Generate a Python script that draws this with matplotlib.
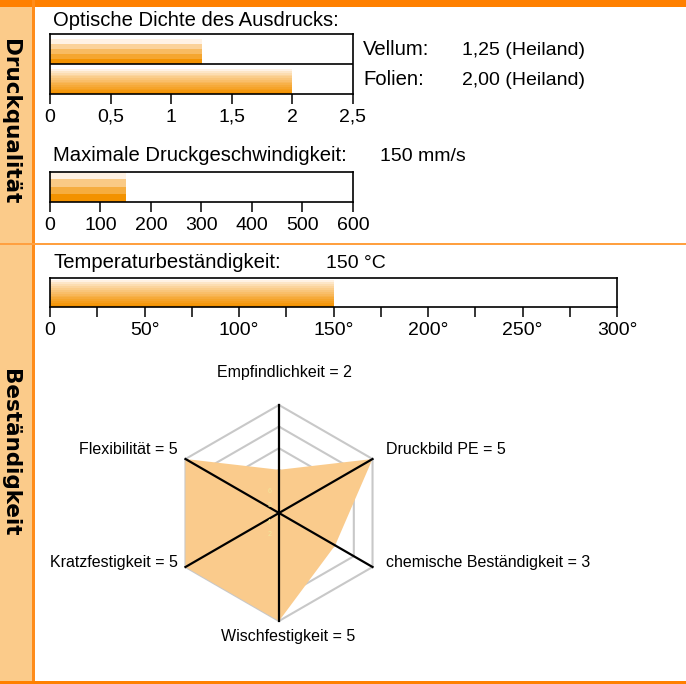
import matplotlib
matplotlib.use("Agg")
import matplotlib.pyplot as plt
from matplotlib.patches import Rectangle, Polygon
import numpy as np

# ---------------- data ----------------
density_labels = ["Vellum:", "Folien:"]
density_values = [1.25, 2.00]
density_texts = ["1,25 (Heiland)", "2,00 (Heiland)"]
density_ticks = [0, 0.5, 1, 1.5, 2, 2.5]
density_ticklabels = ["0", "0,5", "1", "1,5", "2", "2,5"]

speed_value = 150
speed_text = "150 mm/s"
speed_ticks = [0, 100, 200, 300, 400, 500, 600]
speed_ticklabels = ["0", "100", "200", "300", "400", "500", "600"]

temp_value = 150
temp_text = "150 °C"
temp_ticks = [0, 50, 100, 150, 200, 250, 300]
temp_ticklabels = ["0", "50°", "100°", "150°", "200°", "250°", "300°"]
temp_minor = [25, 75, 125, 175, 225, 275]

radar_labels = ["Empfindlichkeit", "Druckbild PE", "chemische Beständigkeit",
                "Wischfestigkeit", "Kratzfestigkeit", "Flexibilität"]
radar_values = [2, 5, 3, 5, 5, 5]
radar_max = 5
radar_rings = [1, 2, 3, 4, 5]

section_titles = ["Druckqualität", "Beständigkeit"]

# ---------------- layout helpers ----------------
W, H = 686, 684
fig = plt.figure(figsize=(W / 100, H / 100), dpi=100)
fig.patch.set_facecolor("white")

FONT = ["Liberation Sans", "DejaVu Sans"]
ORANGE = "#FF8000"
LIGHT = "#FBCB8A"
TFS = 14.6


def rect_px(x0, y0, x1, y1):
    return [x0 / W, 1 - y1 / H, (x1 - x0) / W, (y1 - y0) / H]


def fx(x):
    return x / W


def fy(y):
    return 1 - y / H


def frect(x0, y0, x1, y1, color, z=0):
    fig.add_artist(Rectangle((fx(x0), fy(y1)), (x1 - x0) / W, (y1 - y0) / H,
                             transform=fig.transFigure, facecolor=color,
                             edgecolor="none", zorder=z))


# decoration frame
frect(0, 0, 32, H, LIGHT)
frect(0, 0, W, 7, ORANGE, 2)
frect(32, 0, 35, H, "#FF8C1A", 2)
frect(0, 243, W, 245, "#FFA040", 2)
frect(0, 681, W, H, ORANGE, 2)

fig.text(fx(10), fy(122), section_titles[0], rotation=-90, ha="center", va="center",
         fontsize=15.5, fontweight="bold", family=["DejaVu Sans"], color="black")
fig.text(fx(10), fy(453), section_titles[1], rotation=-90, ha="center", va="center",
         fontsize=15.5, fontweight="bold", family=["DejaVu Sans"], color="black")

C_TOP = np.array([255, 242, 228]) / 255
C_BOT = np.array([243, 146, 0]) / 255


def stripe_color(k, n):
    t = k / (n - 1) if n > 1 else 1.0
    return C_TOP + (C_BOT - C_TOP) * (t ** 0.8)


def style_axis(ax, ticks, labels, xmax):
    ax.set_xlim(0, xmax)
    ax.set_xticks(ticks)
    ax.set_xticklabels(labels, family=FONT, fontsize=14)
    ax.set_yticks([])
    for s in ax.spines.values():
        s.set_color("black")
        s.set_linewidth(1.2)
    ax.tick_params(axis="x", direction="out", length=7, width=1.1, pad=3.5, colors="black")


# ---------- chart 1: density ----------
ax1 = fig.add_axes(rect_px(50, 34, 353, 94))
ax1.set_ylim(2, 0)
for i, v in enumerate(density_values):
    n = 5 if i == 0 else 14
    top = i + 0.18
    hh = (1.0 - 0.18) / n
    for k in range(n):
        ax1.barh(top + (k + 0.5) * hh, v, height=hh * 1.02, color=stripe_color(k, n),
                 edgecolor="none", zorder=1)
ax1.axhline(1, color="black", lw=1.2, zorder=3)
style_axis(ax1, density_ticks, density_ticklabels, 2.5)
fig.text(fx(53), fy(26), "Optische Dichte des Ausdrucks:", family=FONT, fontsize=TFS,
         va="baseline", ha="left")
for i, (lab, txt) in enumerate(zip(density_labels, density_texts)):
    yb = [55, 85][i]
    fig.text(fx(363), fy(yb), lab, family=FONT, fontsize=TFS, va="baseline")
    fig.text(fx(462), fy(yb), txt, family=FONT, fontsize=14, va="baseline")

# ---------- chart 2: speed ----------
ax2 = fig.add_axes(rect_px(50, 172, 353, 202))
ax2.set_ylim(1, 0)
n = 4
for k in range(n):
    hh = 1.0 / n
    ax2.barh((k + 0.5) * hh, speed_value, height=hh * 1.02, color=stripe_color(k, n),
             edgecolor="none", zorder=1)
style_axis(ax2, speed_ticks, speed_ticklabels, 600)
fig.text(fx(53), fy(161), "Maximale Druckgeschwindigkeit:", family=FONT, fontsize=TFS,
         va="baseline")
fig.text(fx(380), fy(161), speed_text, family=FONT, fontsize=14, va="baseline")

# ---------- chart 3: temperature ----------
ax3 = fig.add_axes(rect_px(50, 278, 617, 307))
ax3.set_ylim(1, 0)
n = 14
for k in range(n):
    hh = 0.92 / n
    ax3.barh(0.08 + (k + 0.5) * hh, temp_value, height=hh * 1.02, color=stripe_color(k, n),
             edgecolor="none", zorder=1)
style_axis(ax3, temp_ticks, temp_ticklabels, 300)
ax3.set_xticks(temp_minor, minor=True)
ax3.tick_params(axis="x", which="minor", direction="out", length=7, width=1.1)
fig.text(fx(53), fy(268), "Temperaturbeständigkeit:", family=FONT, fontsize=TFS,
         va="baseline")
fig.text(fx(326), fy(268), temp_text, family=FONT, fontsize=14, va="baseline")

# ---------- radar ----------
R = 108.0
cx, cy = 279, 513
axr = fig.add_axes(rect_px(cx - 1.3 * R, cy - 1.3 * R, cx + 1.3 * R, cy + 1.3 * R))
axr.set_xlim(-1.3 * radar_max, 1.3 * radar_max)
axr.set_ylim(-1.3 * radar_max, 1.3 * radar_max)
axr.set_aspect("equal")
axr.axis("off")
N = len(radar_labels)
ang = np.pi / 2 - np.arange(N) * 2 * np.pi / N
for r in radar_rings:
    xs = np.append(r * np.cos(ang), r * np.cos(ang[0]))
    ys = np.append(r * np.sin(ang), r * np.sin(ang[0]))
    axr.plot(xs, ys, color="#C8C8C8", lw=1.5, zorder=1)
vals = np.array(radar_values, dtype=float)
axr.add_patch(Polygon(np.column_stack([vals * np.cos(ang), vals * np.sin(ang)]),
                      closed=True, facecolor="#FACB8C", edgecolor="none", zorder=2))
for a in ang[:3]:
    axr.plot([radar_max * np.cos(a), -radar_max * np.cos(a)],
             [radar_max * np.sin(a), -radar_max * np.sin(a)], color="black", lw=1.6, zorder=3)
# faint radial tick labels
for txt, yy in zip(["6", "5", "4", "2"], [1.0, 0.35, -0.45, -1.0]):
    axr.text(-0.45, yy, txt, fontsize=5, color="#F3E79A", ha="center", va="center",
             family=FONT, zorder=4)

radar_pos = [(284, 373, "center"), (386, 449, "left"), (386, 563, "left"),
             (288, 637, "center"), (178, 563, "right"), (178, 449, "right")]
for lab, v, (px, py, ha) in zip(radar_labels, radar_values, radar_pos):
    fig.text(fx(px), fy(py), f"{lab} = {v}", family=FONT, fontsize=11.5,
             ha=ha, va="center")

fig.savefig("out.png", dpi=100, facecolor="white")
